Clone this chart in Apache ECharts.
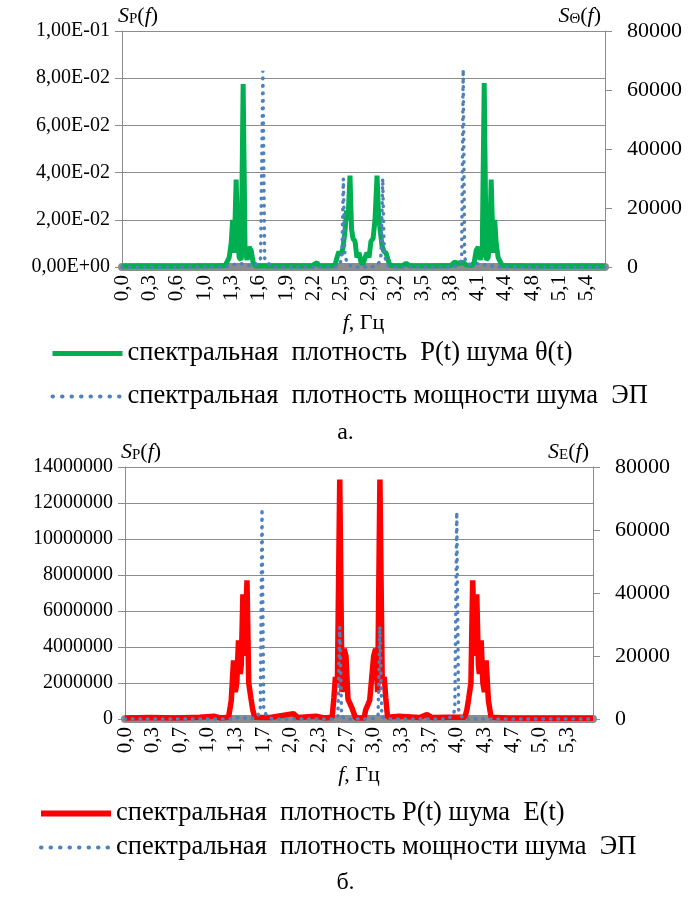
<!DOCTYPE html>
<html>
<head>
<meta charset="utf-8">
<script src="https://cdn.jsdelivr.net/npm/echarts@6/dist/echarts.min.js"></script>
<style>
  html, body { margin: 0; padding: 0; background: #fff; }
  #chart { width: 691px; height: 898px; }
</style>
</head>
<body>
<div id="chart"></div>
<script>
// (а) spectral density of P(t) for noise θ(t) and EP noise power
const freqThetaA = [0, 0.25, 0.55, 0.85, 1.1, 1.198, 1.245, 1.268, 1.285, 1.303, 1.326, 1.343, 1.361, 1.384, 1.407, 1.43, 1.454, 1.477, 1.5, 1.523, 1.546, 1.7, 1.95, 2.2, 2.265, 2.29, 2.4, 2.473, 2.497, 2.52, 2.543, 2.566, 2.59, 2.608, 2.625, 2.648, 2.666, 2.683, 2.706, 2.729, 2.753, 2.776, 2.8, 2.823, 2.846, 2.869, 2.892, 2.916, 2.939, 2.962, 2.98, 2.997, 3.02, 3.043, 3.067, 3.09, 3.113, 3.25, 3.3, 3.34, 3.6, 3.82, 3.86, 3.92, 3.96, 4.0, 4.068, 4.091, 4.114, 4.137, 4.16, 4.184, 4.207, 4.23, 4.253, 4.271, 4.288, 4.311, 4.329, 4.346, 4.369, 4.416, 4.7, 5.0, 5.3, 5.61]
const spThetaA = [0.0003, 0.0004, 0.0003, 0.0004, 0.0005, 0.0006, 0.004, 0.01, 0.02, 0.006, 0.037, 0.012, 0.004, 0.003, 0.0775, 0.006, 0.003, 0.0085, 0.007, 0.002, 0.0005, 0.0004, 0.0005, 0.0004, 0.0018, 0.0005, 0.0004, 0.0006, 0.004, 0.0065, 0.005, 0.008, 0.015, 0.024, 0.02, 0.0387, 0.016, 0.012, 0.011, 0.004, 0.006, 0.002, 0.0012, 0.004, 0.006, 0.004, 0.011, 0.012, 0.02, 0.0387, 0.022, 0.016, 0.009, 0.0065, 0.006, 0.003, 0.0006, 0.0004, 0.0016, 0.0005, 0.0004, 0.0006, 0.002, 0.0015, 0.002, 0.0008, 0.0006, 0.002, 0.007, 0.0085, 0.003, 0.006, 0.078, 0.003, 0.004, 0.012, 0.037, 0.006, 0.02, 0.01, 0.004, 0.0006, 0.0004, 0.0003, 0.0004, 0.0003]
const freqEpA = [0, 1.2, 1.3, 1.38, 1.45, 1.5, 1.546, 1.581, 1.61, 1.636, 1.657, 1.686, 1.72, 1.755, 2.45, 2.509, 2.538, 2.555, 2.571, 2.588, 2.614, 2.648, 2.7, 2.9, 2.95, 2.985, 3.008, 3.028, 3.045, 3.067, 3.102, 3.15, 3.85, 3.92, 3.945, 3.963, 3.98, 4.005, 4.04, 4.12, 4.2, 4.3, 4.4, 5.61]
const spEpA = [0, 0, 800, 1200, 600, 300, 600, 1500, 3000, 66500, 3000, 1500, 800, 0, 0, 300, 1500, 5000, 30000, 4000, 1500, 500, 0, 0, 500, 1500, 4000, 30000, 5000, 1500, 300, 0, 0, 1000, 2500, 67000, 3000, 1500, 800, 1200, 800, 300, 0, 0]
const xLabelsA = ['0,0', '0,3', '0,6', '1,0', '1,3', '1,6', '1,9', '2,2', '2,5', '2,9', '3,2', '3,5', '3,8', '4,1', '4,4', '4,8', '5,1', '5,4']

// (б) spectral density of P(t) for noise E(t) and EP noise power
const freqEB = [0, 0.3, 0.6, 0.9, 1.08, 1.15, 1.248, 1.28, 1.308, 1.329, 1.347, 1.368, 1.389, 1.401, 1.421, 1.443, 1.47, 1.491, 1.518, 1.54, 1.564, 1.75, 2.03, 2.08, 2.3, 2.4, 2.496, 2.518, 2.536, 2.56, 2.588, 2.615, 2.639, 2.663, 2.687, 2.711, 2.736, 2.76, 2.778, 2.83, 2.882, 2.9, 2.924, 2.949, 2.973, 2.997, 3.021, 3.045, 3.072, 3.1, 3.124, 3.142, 3.164, 3.3, 3.55, 3.64, 3.7, 3.9, 4.096, 4.12, 4.142, 4.169, 4.19, 4.217, 4.239, 4.259, 4.271, 4.292, 4.313, 4.331, 4.352, 4.38, 4.412, 4.6, 5.0, 5.64]
const spEB = [50000, 80000, 50000, 100000, 150000, 60000, 100000, 1000000, 3260000, 1500000, 2000000, 4370000, 2500000, 3000000, 6930000, 3500000, 7700000, 2000000, 1150000, 500000, 100000, 80000, 300000, 80000, 150000, 60000, 100000, 1200000, 2330000, 2000000, 13300000, 1500000, 3900000, 3500000, 1100000, 1040000, 600000, 500000, 60000, 60000, 60000, 500000, 600000, 1040000, 1100000, 3500000, 3900000, 1500000, 13300000, 2000000, 2330000, 1200000, 100000, 150000, 80000, 250000, 80000, 100000, 100000, 500000, 1150000, 2000000, 7700000, 3500000, 6930000, 3000000, 2500000, 4370000, 2000000, 1500000, 3260000, 1000000, 100000, 60000, 40000, 40000]
const freqEpB = [0, 1.3, 1.36, 1.45, 1.56, 1.6, 1.63, 1.651, 1.672, 1.7, 1.74, 1.78, 2.5, 2.54, 2.565, 2.588, 2.61, 2.64, 2.7, 2.95, 3.02, 3.05, 3.071, 3.095, 3.12, 3.2, 3.88, 3.95, 3.975, 3.998, 4.02, 4.05, 4.09, 5.64]
const spEpB = [0, 0, 500, 300, 200, 1000, 2500, 66800, 2500, 1500, 500, 0, 0, 300, 800, 29200, 1000, 300, 0, 0, 300, 1000, 29400, 800, 300, 0, 0, 1000, 3000, 65700, 3000, 1000, 0, 0]
const xLabelsB = ['0,0', '0,3', '0,7', '1,0', '1,3', '1,7', '2,0', '2,3', '2,7', '3,0', '3,3', '3,7', '4,0', '4,3', '4,7', '5,0', '5,3']

const xStepA = 0.3175
const xStepB = 1 / 3

const FONT = 'Liberation Serif'
const GREY = '#8c8c8c'

function pairs(xs, ys) {
  return xs.map((x, i) => [x, ys[i]])
}

function sci(v) {
  if (v === 0) return '0,00E+00'
  const e = Math.floor(Math.log10(v) + 1e-9)
  const m = v / Math.pow(10, e)
  return m.toFixed(2).replace('.', ',') + 'E' + (e < 0 ? '-' : '+') + String(Math.abs(e)).padStart(2, '0')
}

function tickLabel(labels, step) {
  return (v) => {
    const k = Math.round(v / step)
    return Math.abs(v - k * step) < 1e-6 && labels[k] ? labels[k] : ''
  }
}

const nameRich = {
  s: { fontFamily: FONT, fontSize: 22, fontStyle: 'italic', color: '#000' },
  sub: { fontFamily: FONT, fontSize: 15, color: '#000', padding: [6, 0, 0, 0] },
  n: { fontFamily: FONT, fontSize: 22, color: '#000' },
}

function xAxisFor(gridIndex, max, step, labels) {
  return {
    type: 'value',
    gridIndex,
    min: 0,
    max,
    interval: step,
    offset: 4,
    name: '{s|f}{n|, Гц}',
    nameLocation: 'middle',
    nameGap: 41,
    nameTextStyle: { fontFamily: FONT, rich: nameRich },
    axisLine: { show: true, lineStyle: { color: GREY, width: 8 } },
    axisTick: { show: false },
    splitLine: { show: false },
    axisLabel: {
      rotate: 90,
      margin: 4,
      showMaxLabel: false,
      fontFamily: FONT,
      fontSize: 21,
      color: '#000',
      formatter: tickLabel(labels, step),
    },
  }
}

function leftAxis(gridIndex, max, interval, formatter, name) {
  return {
    type: 'value',
    gridIndex,
    position: 'left',
    min: 0,
    max,
    interval,
    name,
    nameLocation: 'end',
    nameGap: 4,
    nameTextStyle: { fontFamily: FONT, align: 'left', padding: [0, 0, 0, -4], rich: nameRich },
    axisLine: { show: true, lineStyle: { color: GREY } },
    axisTick: { show: true, length: 7, lineStyle: { color: GREY } },
    splitLine: { show: true, lineStyle: { color: GREY } },
    axisLabel: { margin: 12, fontFamily: FONT, fontSize: 20, color: '#000', formatter },
  }
}

function rightAxis(gridIndex, name) {
  return {
    type: 'value',
    gridIndex,
    position: 'right',
    min: 0,
    max: 80000,
    interval: 20000,
    name,
    nameLocation: 'end',
    nameGap: 4,
    nameTextStyle: { fontFamily: FONT, align: 'right', padding: [0, 4, 0, 0], rich: nameRich },
    axisLine: { show: true, lineStyle: { color: GREY } },
    axisTick: { show: true, length: 7, lineStyle: { color: GREY } },
    splitLine: { show: false },
    axisLabel: { margin: 22, fontFamily: FONT, fontSize: 22, color: '#000', formatter: (v) => String(v) },
  }
}

const epName = 'спектральная  плотность мощности шума  ЭП'
const epStyle = { color: '#4f81bd', width: 3.5, type: [0.5, 7], cap: 'round' }
const epLegendLine = { color: '#4f81bd', width: 4, type: [0.5, 9], cap: 'round' }

const chart = echarts.init(document.getElementById('chart'), null, { renderer: 'canvas' })

chart.setOption({
  backgroundColor: '#fff',
  animation: false,
  textStyle: { fontFamily: FONT },
  title: [
    { text: 'а.', left: 'center', top: 416, textStyle: { fontFamily: FONT, fontSize: 24, fontWeight: 'normal', color: '#000' } },
    { text: 'б.', left: 'center', top: 866, textStyle: { fontFamily: FONT, fontSize: 24, fontWeight: 'normal', color: '#000' } },
  ],
  legend: [
    {
      orient: 'vertical',
      left: 45,
      top: 335,
      itemWidth: 70,
      itemHeight: 26,
      itemGap: 16,
      itemStyle: { opacity: 0 },
      data: [
        { name: 'спектральная  плотность  P(t) шума θ(t)', lineStyle: { width: 5 } },
        { name: epName, lineStyle: epLegendLine },
      ],
      textStyle: { fontFamily: FONT, fontSize: 26.5, color: '#000' },
    },
    {
      orient: 'vertical',
      left: 33,
      top: 795,
      itemWidth: 70,
      itemHeight: 26,
      itemGap: 7,
      itemStyle: { opacity: 0 },
      data: [
        { name: 'спектральная  плотность P(t) шума  E(t)', lineStyle: { width: 6 } },
        { name: epName + ' ', lineStyle: epLegendLine },
      ],
      textStyle: { fontFamily: FONT, fontSize: 26.5, color: '#000' },
    },
  ],
  grid: [
    { left: 122, right: 86, top: 31, height: 236 },
    { left: 125, right: 98, top: 467, height: 252 },
  ],
  xAxis: [
    xAxisFor(0, 5.61, xStepA, xLabelsA),
    xAxisFor(1, 5.64, xStepB, xLabelsB),
  ],
  yAxis: [
    leftAxis(0, 0.1, 0.02, sci, '{s|S}{sub|P}{n|(}{s|f}{n|)}'),
    rightAxis(0, '{s|S}{sub|Θ}{n|(}{s|f}{n|)}'),
    leftAxis(1, 14000000, 2000000, (v) => String(v), '{s|S}{sub|P}{n|(}{s|f}{n|)}'),
    rightAxis(1, '{s|S}{sub|E}{n|(}{s|f}{n|)}'),
  ],
  series: [
    {
      name: 'спектральная  плотность  P(t) шума θ(t)',
      type: 'line',
      xAxisIndex: 0,
      yAxisIndex: 0,
      symbol: 'none',
      clip: false,
      lineStyle: { color: '#00b050', width: 5 },
      itemStyle: { color: '#00b050' },
      data: pairs(freqThetaA, spThetaA),
    },
    {
      name: epName,
      type: 'line',
      xAxisIndex: 0,
      yAxisIndex: 1,
      symbol: 'none',
      clip: false,
      lineStyle: epStyle,
      itemStyle: { color: '#4f81bd' },
      data: pairs(freqEpA, spEpA),
    },
    {
      name: 'спектральная  плотность P(t) шума  E(t)',
      type: 'line',
      xAxisIndex: 1,
      yAxisIndex: 2,
      symbol: 'none',
      clip: false,
      lineStyle: { color: '#ff0000', width: 5.5 },
      itemStyle: { color: '#ff0000' },
      data: pairs(freqEB, spEB),
    },
    {
      name: epName + ' ',
      type: 'line',
      xAxisIndex: 1,
      yAxisIndex: 3,
      symbol: 'none',
      clip: false,
      lineStyle: epStyle,
      itemStyle: { color: '#4f81bd' },
      data: pairs(freqEpB, spEpB),
    },
  ],
})
</script>
</body>
</html>
